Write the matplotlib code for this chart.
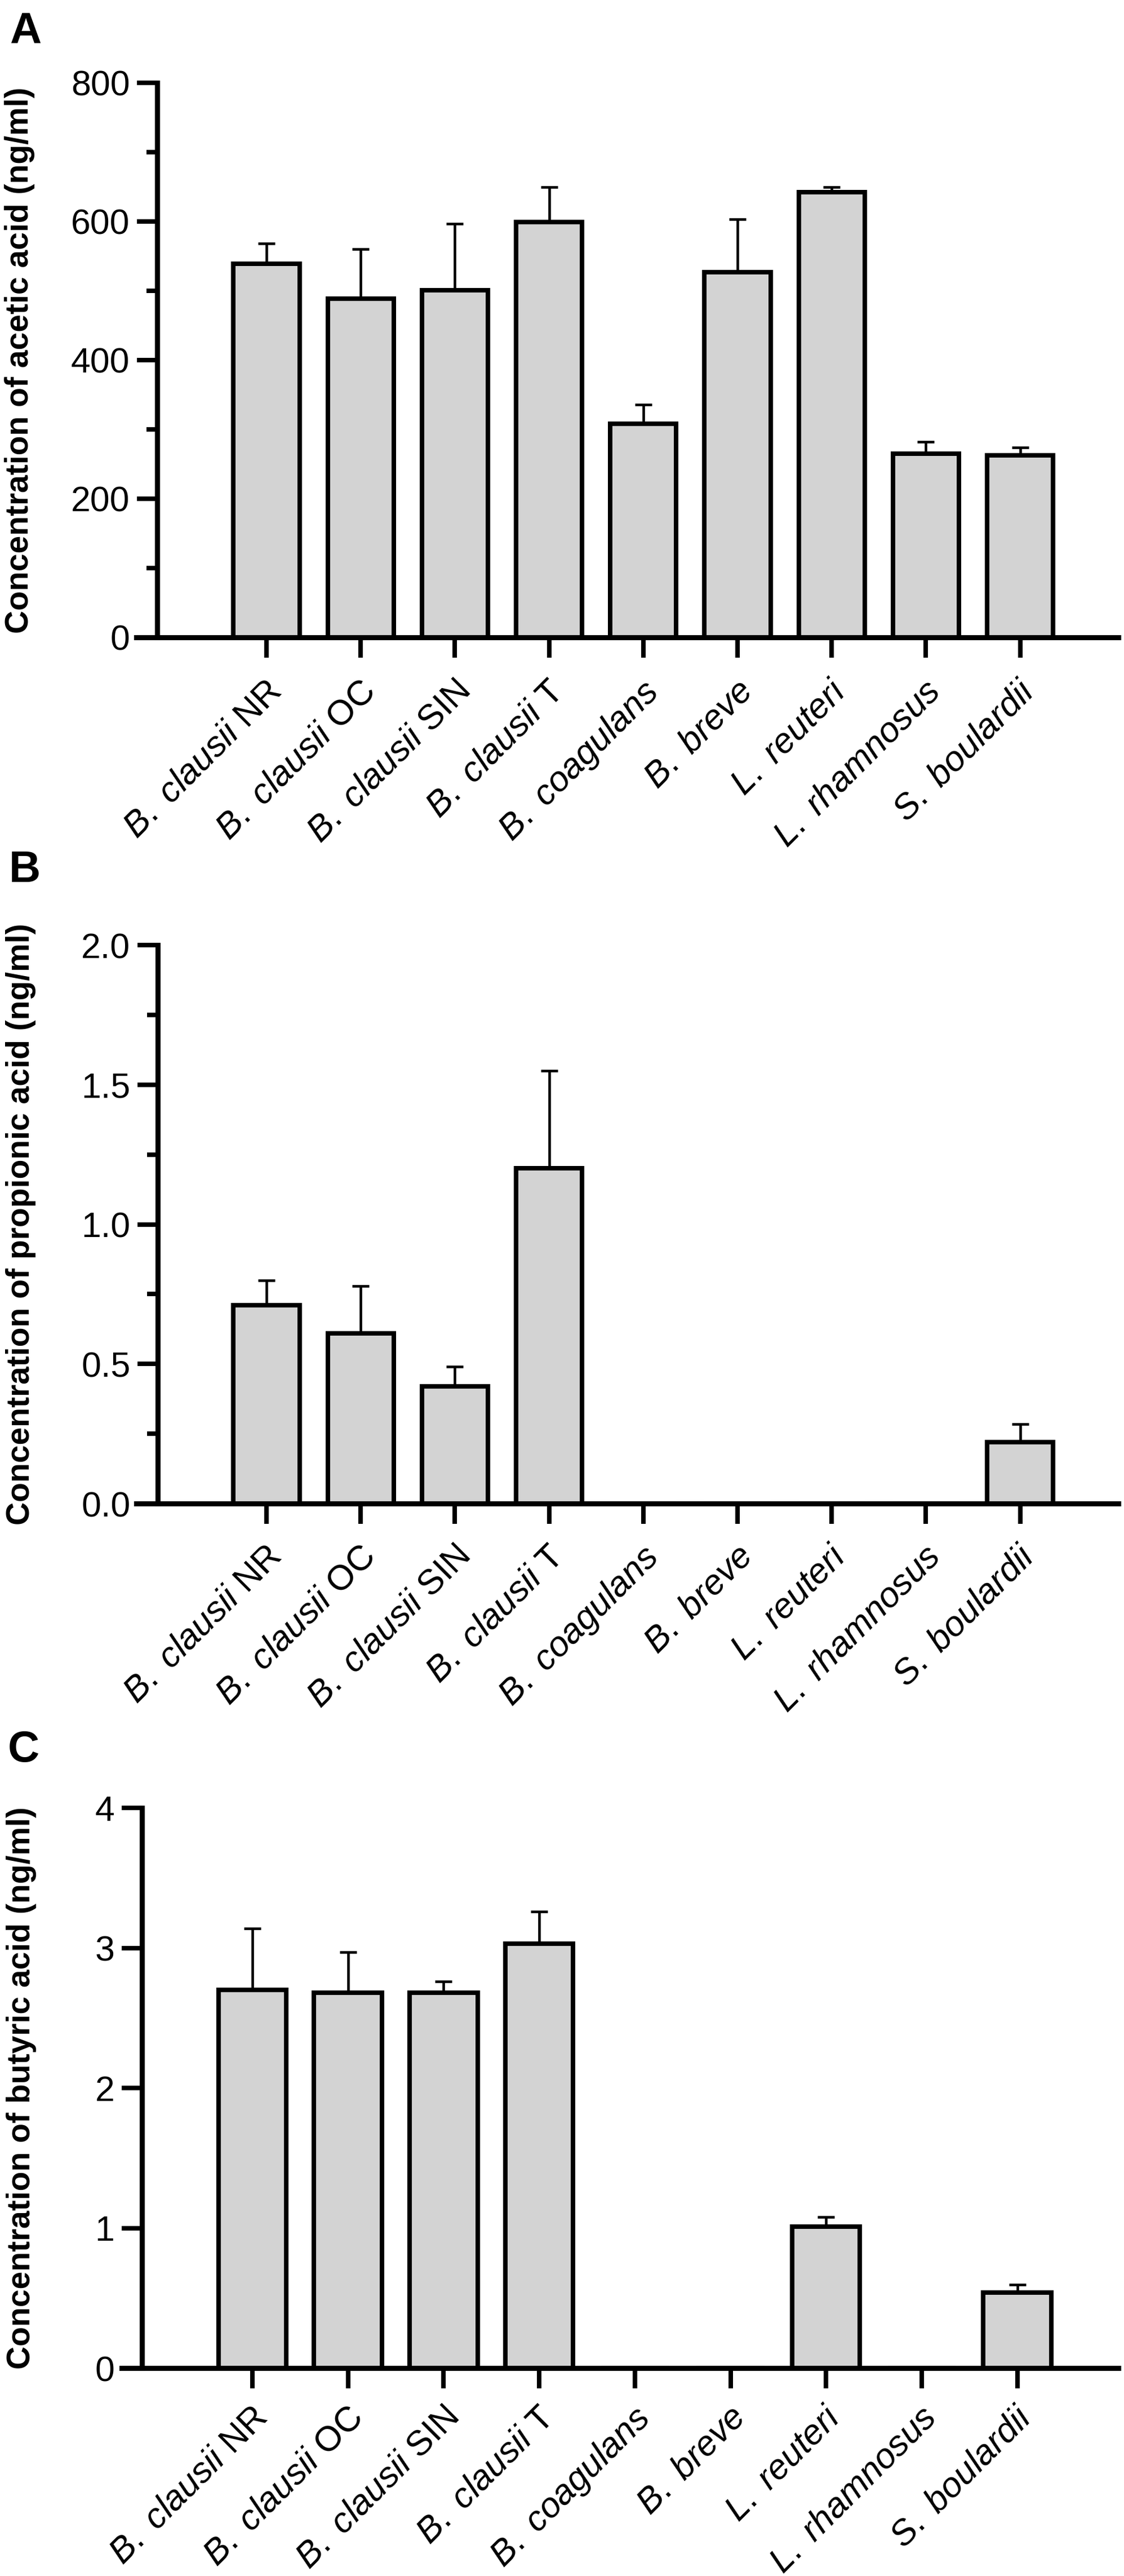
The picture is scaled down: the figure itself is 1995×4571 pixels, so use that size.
import matplotlib
matplotlib.use('Agg')
import matplotlib.pyplot as plt
from matplotlib.ticker import MultipleLocator
from matplotlib.transforms import ScaledTranslation
import numpy as np

plt.rcParams['font.family'] = ['Liberation Sans', 'DejaVu Sans']
plt.rcParams['mathtext.fontset'] = 'custom'
plt.rcParams['mathtext.rm'] = 'Liberation Sans'
plt.rcParams['mathtext.it'] = 'Liberation Sans:italic'
plt.rcParams['mathtext.bf'] = 'Liberation Sans:bold'

# ---------------- data ----------------
strains = [r'$\mathit{B.\ clausii}$ NR', r'$\mathit{B.\ clausii}$ OC',
           r'$\mathit{B.\ clausii}$ SIN', r'$\mathit{B.\ clausii}$ T',
           r'$\mathit{B.\ coagulans}$', r'$\mathit{B.\ breve}$',
           r'$\mathit{L.\ reuteri}$', r'$\mathit{L.\ rhamnosus}$',
           r'$\mathit{S.\ boulardii}$']

acetic_mean = [539, 489, 501, 599, 308, 527, 642, 265, 263]
acetic_err = [29, 71, 96, 51, 28, 76, 8, 17, 11]

propionic_mean = [0.71, 0.61, 0.42, 1.20, 0.0, 0.0, 0.0, 0.0, 0.22]
propionic_err = [0.09, 0.17, 0.07, 0.35, 0.0, 0.0, 0.0, 0.0, 0.065]

butyric_mean = [2.70, 2.68, 2.68, 3.03, 0.0, 0.0, 1.01, 0.0, 0.54]
butyric_err = [0.44, 0.29, 0.08, 0.23, 0.0, 0.0, 0.07, 0.0, 0.055]

acetic_ylabel = 'Concentration of acetic acid (ng/ml)'
propionic_ylabel = 'Concentration of propionic acid (ng/ml)'
butyric_ylabel = 'Concentration of butyric acid (ng/ml)'

acetic_ticks = [0, 200, 400, 600, 800]
propionic_ticks = [0.0, 0.5, 1.0, 1.5, 2.0]
butyric_ticks = [0, 1, 2, 3, 4]

# ---------------- layout ----------------
W, H = 1995, 4571
DPI = 100
fig = plt.figure(figsize=(W / DPI, H / DPI), dpi=DPI)

BAR_FACE = '#d3d3d3'
SPINE_LW = 6.5
BAR_LW = 5.8
ERR_LW = 3.3
TICK_LEN = 26
MINOR_LEN = 14
TICK_W = 5.8
XLAB_SIZE = 45


def panel(letter, letter_xy, px_left, px_right, px_top, px_bottom, c0, step, spine_x,
          means, errs, ticks, tick_fmt, minor_step, xlabels, ylabel, ylabel_x, bar_w,
          lab_dx, lab_dy):
    ax = fig.add_axes([px_left / W, 1 - px_bottom / H,
                       (px_right - px_left) / W, (px_bottom - px_top) / H])
    x = np.arange(len(means))
    ax.set_xlim((px_left - c0) / step, (px_right - c0) / step)
    ax.set_ylim(ticks[0], ticks[-1])

    ax.bar(x, means, width=bar_w, color=BAR_FACE, edgecolor='black',
           linewidth=BAR_LW, zorder=2, clip_on=False)
    m = np.array(means)
    e = np.array(errs)
    keep = m > 0
    ax.errorbar(x[keep], m[keep], yerr=[np.zeros(keep.sum()), e[keep]], fmt='none',
                ecolor='black', elinewidth=ERR_LW, capsize=11, capthick=ERR_LW,
                zorder=1.5, clip_on=False)

    for s in ['top', 'right']:
        ax.spines[s].set_visible(False)
    ax.spines['left'].set_position(('data', (spine_x - c0) / step))
    ax.spines['left'].set_linewidth(SPINE_LW)
    ax.spines['bottom'].set_linewidth(SPINE_LW)
    ax.spines['left'].set_zorder(3)
    ax.spines['bottom'].set_zorder(3)

    ax.set_yticks(ticks)
    ax.set_yticklabels([tick_fmt.format(t) for t in ticks])
    if minor_step:
        ax.yaxis.set_minor_locator(MultipleLocator(minor_step))
    ax.tick_params(axis='y', which='major', length=TICK_LEN, width=TICK_W,
                   labelsize=45, pad=9)
    ax.tick_params(axis='y', which='minor', length=MINOR_LEN, width=TICK_W)

    ax.set_xticks(x)
    ax.tick_params(axis='x', which='major', length=TICK_LEN, width=TICK_W,
                   labelbottom=False)
    ax.tick_params(axis='x', which='minor', length=0)
    ax.patch.set_alpha(0)

    # rotated category labels, anchored under each tick
    off = ScaledTranslation(lab_dx / DPI, -lab_dy / DPI, fig.dpi_scale_trans)
    trans = ax.get_xaxis_transform() + off
    for xi, lab in zip(x, xlabels):
        ax.text(xi, 0, lab, transform=trans, rotation=45, ha='right', va='top',
                rotation_mode='anchor', fontsize=XLAB_SIZE, clip_on=False)

    yc = 1 - (px_top + px_bottom) / 2 / H
    fig.text(ylabel_x / W, yc, ylabel, rotation=90, ha='center', va='center',
             fontsize=41, fontweight='bold')
    fig.text(letter_xy[0] / W, 1 - letter_xy[1] / H, letter, ha='left', va='top',
             fontsize=56, fontweight='bold')
    return ax


panel('A', (17, 19), 242, 1985, 147, 1131, 473, 167.2, 279,
      acetic_mean, acetic_err, acetic_ticks, '{:d}', 100, strains,
      acetic_ylabel, 35, 0.70, -4, 66)
panel('B', (16, 1508), 242, 1985, 1677, 2668, 473, 167.2, 280,
      propionic_mean, propionic_err, propionic_ticks, '{:.1f}', 0.25, strains,
      propionic_ylabel, 37, 0.70, -4, 64)
panel('C', (14, 3069), 216, 1985, 3208, 4202, 448, 169.7, 252,
      butyric_mean, butyric_err, butyric_ticks, '{:d}', None, strains,
      butyric_ylabel, 38, 0.71, -4, 58)

fig.savefig('out.png', dpi=DPI, facecolor='white')
